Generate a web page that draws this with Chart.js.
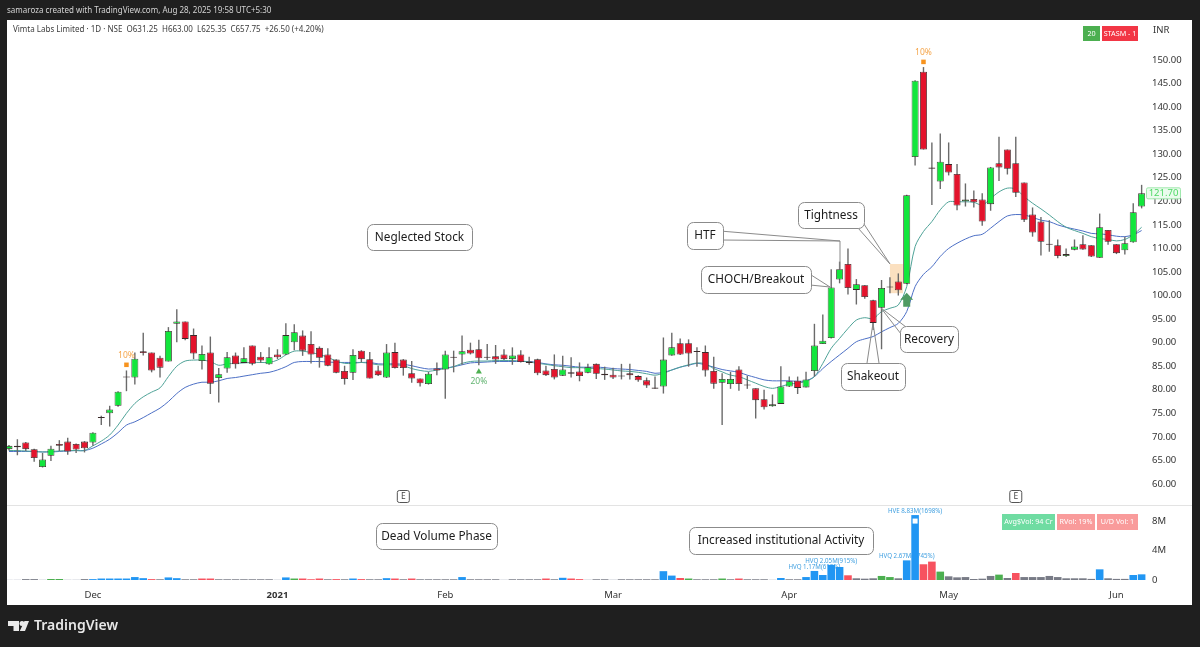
<!DOCTYPE html>
<html>
<head>
<meta charset="utf-8">
<style>
  html, body { margin: 0; padding: 0; background: #1f1f1f; }
  canvas { display: block; }
</style>
<script src="https://cdn.jsdelivr.net/npm/chart.js@4"></script>
</head>
<body>
<canvas id="myChart" width="1200" height="647"></canvas>
<script>
const open = [
  67.4,68.1,68.8,67.4,63.6,66.0,68.5,69.0,68.5,69.0,
  68.8,74.1,75.0,76.6,82.8,82.6,88.2,87.9,86.8,86.0,
  94.0,94.5,91.6,86.1,87.9,82.5,84.5,87.3,85.7,89.4,
  87.0,85.4,87.5,87.5,90.1,91.5,89.7,88.9,87.5,86.4,
  84.0,83.6,88.3,86.5,84.1,82.6,88.0,86.4,83.5,82.4,
  81.2,84.5,84.3,87.0,87.5,88.5,88.6,87.0,87.1,87.5,
  86.5,87.5,86.0,86.5,84.1,84.4,83.0,83.4,83.9,83.6,
  85.5,83.4,83.2,83.0,83.5,82.9,82.0,80.2,80.7,87.3,
  89.9,89.9,88.2,88.0,84.0,81.5,81.2,84.3,81.0,80.3,
  78.0,76.5,77.0,80.7,81.9,80.5,84.0,89.7,91.0,103.4,
  106.7,101.2,102.2,99.0,97.4,101.9,103.0,102.5,129.4,147.5,
  127.2,124.2,127.9,125.8,120.0,120.5,120.4,119.4,128.1,131.0,
  128.1,124.0,117.2,115.7,111.0,110.7,108.4,109.7,110.9,110.7,
  108.0,113.9,110.9,109.6,111.3,118.9
]
const high = [
  68.3,69.5,68.9,67.5,66.6,68.1,69.3,69.8,68.6,69.1,
  71.0,74.5,76.6,79.7,84.1,87.9,92.1,87.9,87.2,93.3,
  97.1,94.5,93.0,89.4,91.3,84.6,88.0,87.9,89.0,89.4,
  88.0,89.0,88.6,94.1,93.9,92.6,92.4,89.2,88.8,86.5,
  85.1,88.6,88.4,88.0,85.1,89.7,90.0,86.5,86.1,82.4,
  83.8,85.8,88.3,88.3,91.5,90.0,90.6,89.7,89.5,88.6,
  89.0,88.4,87.0,86.6,85.1,87.5,87.2,86.9,85.8,85.5,
  85.6,84.9,84.7,85.5,85.5,83.1,82.6,82.8,91.1,92.1,
  90.9,90.7,89.0,89.4,87.0,83.5,83.8,85.0,83.0,80.3,
  80.0,79.0,85.0,82.8,82.8,83.8,94.0,96.0,105.6,107.2,
  110.0,103.5,102.2,99.1,103.3,103.9,104.7,121.4,145.7,148.5,
  132.5,134.4,132.5,127.9,123.8,122.3,121.7,127.3,133.7,131.0,
  133.7,124.0,118.7,116.7,116.0,111.9,110.0,111.9,112.8,110.7,
  117.4,113.9,110.9,112.5,119.6,123.5
]
const low = [
  67.1,66.1,67.0,64.7,63.5,64.9,67.0,66.2,66.6,66.7,
  68.1,72.5,72.2,76.4,79.7,81.1,87.3,83.7,82.6,86.0,
  90.1,90.5,86.5,84.3,79.1,77.3,83.6,84.5,85.7,85.2,
  85.7,85.3,86.5,87.4,88.4,87.2,85.6,84.7,85.0,83.5,
  81.1,82.1,85.8,82.4,82.9,82.5,84.5,83.0,81.5,80.7,
  81.1,83.1,78.1,83.7,85.3,87.5,85.2,86.3,85.5,86.3,
  85.3,85.8,85.3,83.1,82.9,82.2,82.9,82.6,81.8,83.5,
  82.3,82.1,82.3,82.2,82.2,81.7,80.4,80.2,79.2,87.2,
  87.4,84.9,84.9,82.8,80.2,72.5,80.2,79.8,80.2,73.9,
  75.8,76.4,77.0,80.6,79.1,80.5,82.8,89.7,90.9,102.6,
  100.2,98.1,99.3,92.7,88.6,100.5,100.0,102.4,127.6,131.0,
  119.2,122.6,125.5,118.1,118.9,118.7,114.8,118.0,124.3,125.7,
  120.9,115.6,112.5,108.5,109.3,107.9,108.2,109.6,109.7,108.2,
  108.0,110.8,108.8,108.7,111.2,118.5
]
const close = [
  68.1,67.8,67.4,65.5,65.2,67.5,68.1,66.9,67.3,67.6,
  70.9,74.0,75.8,79.6,82.6,86.6,87.8,84.1,84.7,92.5,
  94.5,90.8,87.7,87.6,81.3,83.3,86.9,85.4,86.7,85.5,
  86.2,86.9,86.9,91.6,92.2,88.3,87.5,86.8,85.1,83.6,
  82.3,87.4,86.5,82.4,83.1,87.9,84.6,84.6,82.4,81.4,
  83.4,84.1,87.5,86.8,88.2,87.7,86.7,86.8,86.4,86.5,
  87.3,85.9,85.7,83.5,83.1,82.6,84.3,83.7,82.9,84.8,
  83.4,83.1,82.6,82.8,83.1,82.0,80.9,80.5,86.4,89.0,
  87.5,87.7,88.0,84.1,81.3,82.3,82.3,81.2,80.9,77.8,
  76.3,76.9,80.7,81.8,80.4,82.2,89.4,90.4,101.7,105.6,
  101.6,102.4,99.7,94.2,101.6,101.7,101.1,121.3,145.6,131.0,
  126.9,128.4,126.1,119.1,120.4,119.8,115.7,127.2,127.2,126.9,
  121.8,116.1,113.4,111.4,110.8,108.4,108.8,110.4,109.8,108.3,
  114.5,111.4,109.0,111.1,117.7,121.7
]
const emaFast = [
  67.1,67.1,67.0,66.9,66.8,66.9,67.0,67.1,67.1,67.1,
  68.1,69.1,70.4,72.5,75.0,77.1,78.5,79.5,80.4,82.8,
  85.0,86.1,86.3,86.3,86.0,85.2,85.5,85.6,85.7,85.8,
  85.8,85.8,86.3,87.4,88.2,88.2,87.9,87.5,86.9,86.1,
  85.6,85.6,85.8,85.6,85.3,85.3,85.3,85.1,84.5,84.1,
  83.9,84.2,84.5,84.9,85.6,86.0,86.1,86.1,86.2,86.2,
  86.2,86.1,85.9,85.6,85.4,85.1,84.9,84.7,84.7,84.6,
  84.5,84.4,84.2,84.0,83.9,83.7,83.4,83.1,83.5,84.2,
  84.8,85.3,85.7,85.5,84.5,83.8,83.1,82.8,82.1,81.4,
  80.7,80.3,80.7,81.2,81.4,81.8,82.8,85.6,88.8,90.9,
  93.0,94.8,95.3,95.1,96.6,97.3,98.0,101.9,110.4,113.6,
  115.7,118.2,119.9,119.9,119.9,119.8,119.2,120.6,122.0,122.8,
  122.6,121.0,119.6,118.4,117.1,115.7,114.5,113.8,113.2,112.5,
  112.1,111.9,111.6,111.9,112.9,114.5
]
const emaSlow = [
  66.9,66.9,66.9,66.9,66.8,66.8,66.9,67.0,67.1,67.1,
  67.6,68.5,69.5,70.9,72.5,73.2,74.1,75.1,76.1,77.5,
  79.2,80.5,81.2,81.6,81.6,81.9,82.4,82.6,82.9,83.2,
  83.5,83.7,84.2,84.9,85.8,86.0,86.0,86.0,85.9,85.8,
  85.8,85.8,85.8,85.8,85.5,85.5,85.5,85.4,85.1,84.7,
  84.4,84.5,84.6,84.9,85.3,85.7,85.8,85.9,86.0,86.0,
  86.0,86.0,86.0,85.8,85.5,85.3,85.2,85.0,84.8,84.8,
  84.8,84.7,84.5,84.4,84.3,84.1,83.9,83.5,83.7,84.2,
  84.8,85.2,85.6,85.3,84.8,84.3,84.0,83.7,83.1,82.6,
  82.1,81.9,81.9,81.9,81.8,81.9,82.8,84.5,86.0,87.4,
  88.8,90.2,90.8,91.3,92.3,93.2,94.1,96.6,101.9,104.5,
  106.1,108.3,110.0,111.1,112.0,112.7,113.0,114.3,115.7,116.9,
  117.2,117.1,116.6,116.0,115.7,115.0,114.5,114.1,113.7,113.2,
  113.1,112.9,112.6,112.5,112.9,113.8
]
const volume = [
  .05,.06,.12,.12,.07,.14,.14,.07,.07,.12,
  .12,.2,.2,.2,.2,.4,.25,.12,.1,.35,
  .25,.1,.1,.2,.2,.1,.1,.1,.1,.1,
  .1,.1,.07,.35,.2,.2,.1,.2,.1,.12,
  .1,.2,.12,.1,.1,.25,.2,.1,.2,.1,
  .1,.1,.1,.1,.4,.1,.1,.1,.1,.07,
  .1,.1,.1,.1,.2,.1,.3,.2,.12,.08,
  .1,.1,.08,.1,.1,.1,.1,.1,1.2,.6,
  .27,.2,.1,.1,.1,.2,.1,.2,.1,.1,
  .1,.07,.27,.1,.1,.4,1.23,.68,2.05,1.77,
  .64,.23,.18,.23,.55,.4,.23,2.67,8.83,2.14,
  2.5,1.14,.5,.36,.4,.14,.18,.55,.73,.27,
  .95,.4,.4,.4,.55,.4,.23,.23,.23,.15,
  1.45,.23,.15,.15,.68,.77
]
// b high volume, g up, r down, n normal, l faint
const volumeKinds = (
  'llnnlgglln' + 'bbbbbbbrnb' + 'bnnrrnnnnn' + 'nnlbgrrrnr' + 'nbrnnbrnrn' +
  'nnnnbnnnnl' + 'nnnnrnbrrl' + 'nnlnnnnnbb' + 'rgnnngnrnn' + 'nlbnnbbbbb' +
  'rnnnggnbbr' + 'rgnnnnnngn' + 'rnnnnnnnnn' + 'bnnnbb'
).split('')

const priceTicks = [150,145,140,135,130,125,120,115,110,105,100,95,90,85,80,75,70,65,60]
const volumeTicks = [0, 4, 8]
const timeTickIndex = [10, 32, 52, 72, 93, 112, 132]
const timeTickNames = ['Dec', '2021', 'Feb', 'Mar', 'Apr', 'May', 'Jun']
const earningsIndex = [47, 120]
const orangeMarks = [{ x: 14, y: 85.3 }, { x: 109, y: 149.6 }]
const greenMarks = [{ x: 56, y: 83.8 }]
const volumeNotes = [
  { i: 96, text: 'HVQ 1.17M(615%)' },
  { i: 98, text: 'HVQ 2.05M(915%)' },
  { i: 107, text: 'HVQ 2.67M(3745%)' },
  { i: 108, text: 'HVE 8.83M(1698%)' }
]

const FONT = '"Noto Sans", sans-serif'
const kindColor = { b: '#2196f3', g: '#4caf50', r: '#f7525f', n: '#787b86', l: '#d1d4dc' }

function label(ctx, text, x, y, font, color, align) {
  ctx.font = font
  ctx.fillStyle = color
  ctx.textAlign = align || 'left'
  ctx.textBaseline = 'middle'
  ctx.fillText(text, x, y)
}

function badge(ctx, text, x, y, w, h, fill, color) {
  ctx.fillStyle = fill
  ctx.fillRect(x, y, w, h)
  label(ctx, text, x + w / 2, y + h / 2, '7.2px ' + FONT, color, 'center')
}

// white speech box with its pointer lines underneath
function callout(ctx, text, x, y, w, h, pointers) {
  ctx.strokeStyle = '#8b8b8b'
  ctx.lineWidth = 1
  pointers.forEach(p => {
    ctx.beginPath()
    ctx.moveTo(p[0], p[1])
    ctx.lineTo(p[2], p[3])
    ctx.stroke()
  })
  ctx.beginPath()
  ctx.roundRect(x + 0.5, y + 0.5, w, h, 6)
  ctx.fillStyle = '#ffffff'
  ctx.fill()
  ctx.stroke()
  label(ctx, text, x + w / 2, y + h / 2 + 0.5, '11.8px ' + FONT, '#1c1c1c', 'center')
}

const framePlugin = {
  id: 'frame',
  beforeDraw: chart => {
    const ctx = chart.ctx
    ctx.save()
    ctx.fillStyle = '#1f1f1f'
    ctx.fillRect(0, 0, 1200, 647)
    ctx.fillStyle = '#ffffff'
    ctx.fillRect(7, 20, 1185, 585)
    ctx.fillStyle = '#e3e3e3'
    ctx.fillRect(7, 505, 1185, 1)
    ctx.restore()
  },
  beforeDatasetsDraw: chart => {
    const ctx = chart.ctx
    const x = chart.scales.x
    const y = chart.scales.y
    const v = chart.scales.yVol
    ctx.save()
    // tightness zone
    ctx.fillStyle = '#fbe0c0'
    ctx.fillRect(x.getPixelForValue(105), y.getPixelForValue(106.7),
      x.getPixelForValue(106.55) - x.getPixelForValue(105),
      y.getPixelForValue(100.5) - y.getPixelForValue(106.7))
    // volume notes sit under the bars, the bars cut them
    volumeNotes.forEach(n => {
      label(ctx, n.text, x.getPixelForValue(n.i), v.getPixelForValue(volume[n.i]) - 4,
        '6.2px ' + FONT, '#3f9fe0', 'center')
    })
    ctx.restore()
  },
  afterDatasetsDraw: chart => {
    const ctx = chart.ctx
    const x = chart.scales.x
    const y = chart.scales.y
    const v = chart.scales.yVol
    ctx.save()

    label(ctx, 'samaroza created with TradingView.com, Aug 28, 2025 19:58 UTC+5:30', 7, 10.5, '8px ' + FONT, '#d4d4d4')
    label(ctx, 'Vimta Labs Limited · 1D · NSE  O631.25  H663.00  L625.35  C657.75  +26.50 (+4.20%)', 13, 29.5, '8px ' + FONT, '#3c3c3c')

    badge(ctx, '20', 1083, 26, 17, 15, '#4caf50', '#ffffff')
    badge(ctx, 'STASM - 1', 1102, 26, 36, 15, '#f23645', '#ffffff')
    label(ctx, 'INR', 1153, 30, '9.5px ' + FONT, '#333333')

    // percent marks
    orangeMarks.forEach(m => {
      label(ctx, '10%', x.getPixelForValue(m.x), y.getPixelForValue(m.y) - 9, '8.5px ' + FONT, '#f5a54a', 'center')
    })
    greenMarks.forEach(m => {
      label(ctx, '20%', x.getPixelForValue(m.x), y.getPixelForValue(m.y) + 9.5, '8.5px ' + FONT, '#64b573', 'center')
    })

    // green up arrow under the breakout
    const ax = x.getPixelForValue(107)
    const at = y.getPixelForValue(100.6)
    ctx.fillStyle = '#4f9b63'
    ctx.beginPath()
    ctx.moveTo(ax, at)
    ctx.lineTo(ax + 6.5, at + 7)
    ctx.lineTo(ax + 3.5, at + 7)
    ctx.lineTo(ax + 3.5, at + 14)
    ctx.lineTo(ax - 3.5, at + 14)
    ctx.lineTo(ax - 3.5, at + 7)
    ctx.lineTo(ax - 6.5, at + 7)
    ctx.closePath()
    ctx.fill()

    // earnings flags
    earningsIndex.forEach(i => {
      const ex = x.getPixelForValue(i)
      ctx.strokeStyle = '#555555'
      ctx.lineWidth = 1
      ctx.beginPath()
      ctx.roundRect(ex - 6, 490.5, 12, 12, 2)
      ctx.fillStyle = '#ffffff'
      ctx.fill()
      ctx.stroke()
      label(ctx, 'E', ex, 496.5, '8.5px ' + FONT, '#444444', 'center')
    })

    callout(ctx, 'Neglected Stock', 367, 224, 105, 26, [])
    callout(ctx, 'HTF', 687, 222, 36, 27, [[720, 231, 840, 241], [720, 240, 840, 241], [840, 241, 840, 270]])
    callout(ctx, 'Tightness', 798, 202, 66, 26, [[862, 221, 890, 264], [858, 228, 890, 264]])
    callout(ctx, 'CHOCH/Breakout', 701, 266, 110, 27, [[808, 273, 830, 287], [810, 285, 830, 287]])
    callout(ctx, 'Recovery', 900, 326, 58, 26, [[881, 308, 906, 327], [881, 308, 901, 334]])
    callout(ctx, 'Shakeout', 841, 363, 64, 27, [[873, 323, 867, 363], [873, 323, 879, 363]])
    callout(ctx, 'Dead Volume Phase', 376, 523, 121, 26, [])
    callout(ctx, 'Increased institutional Activity', 689, 527, 184, 27, [])

    // white square on the biggest volume bar
    ctx.fillStyle = '#ffffff'
    ctx.fillRect(x.getPixelForValue(108) - 2.5, v.getPixelForValue(8.83) + 3.5, 5, 5)

    badge(ctx, 'Avg$Vol: 94 Cr', 1002, 514, 53, 16, '#6fdca2', '#ffffff')
    badge(ctx, 'RVol: 19%', 1057, 514, 38, 16, '#f99b9b', '#ffffff')
    badge(ctx, 'U/D Vol: 1', 1097, 514, 41, 16, '#f99b9b', '#ffffff')

    // last price tag
    const py = y.getPixelForValue(close[close.length - 1])
    ctx.fillStyle = '#eafbec'
    ctx.strokeStyle = '#9fe8ad'
    ctx.lineWidth = 1
    ctx.beginPath()
    ctx.roundRect(1146.5, py - 5.5, 34, 11, 1.5)
    ctx.fill()
    ctx.stroke()
    label(ctx, close[close.length - 1].toFixed(2), 1163.5, py, '9.5px ' + FONT, '#4cd964', 'center')

    // footer logo and name
    ctx.fillStyle = '#e8e8e8'
    ctx.beginPath()
    ctx.moveTo(8, 621)
    ctx.lineTo(19, 621)
    ctx.lineTo(19, 631)
    ctx.lineTo(13.5, 631)
    ctx.lineTo(13.5, 626)
    ctx.lineTo(8, 626)
    ctx.closePath()
    ctx.fill()
    ctx.beginPath()
    ctx.arc(22, 623.5, 2.5, 0, Math.PI * 2)
    ctx.fill()
    ctx.beginPath()
    ctx.moveTo(24.5, 621)
    ctx.lineTo(29, 621)
    ctx.lineTo(25, 631)
    ctx.lineTo(19.8, 631)
    ctx.closePath()
    ctx.fill()
    label(ctx, 'TradingView', 34, 626, '600 14px ' + FONT, '#e8e8e8')
    ctx.restore()
  }
}

const points = list => list.map((v, i) => ({ x: i, y: v }))

new Chart('myChart', {
  type: 'bar',
  plugins: [framePlugin],
  data: {
    datasets: [
      {
        type: 'line',
        data: orangeMarks,
        showLine: false,
        pointStyle: 'rect',
        pointRadius: 3.2,
        pointBackgroundColor: '#f7931e',
        pointBorderWidth: 0,
        yAxisID: 'y',
        order: 0
      },
      {
        type: 'line',
        data: greenMarks,
        showLine: false,
        pointStyle: 'triangle',
        pointRadius: 3.5,
        pointBackgroundColor: '#4caf50',
        pointBorderWidth: 0,
        yAxisID: 'y',
        order: 0
      },
      {
        data: open.map((o, i) => ({ x: i, y: [o, close[i]] })),
        backgroundColor: open.map((o, i) => (close[i] >= o ? '#12e63c' : '#e3132c')),
        borderColor: '#3a2a2a',
        borderWidth: 0.8,
        borderSkipped: false,
        inflateAmount: 0,
        barThickness: 7,
        minBarLength: 1,
        grouped: false,
        yAxisID: 'y',
        order: 1
      },
      {
        data: open.map((o, i) => ({ x: i, y: [low[i], high[i]] })),
        backgroundColor: '#6a6a6a',
        inflateAmount: 0,
        barThickness: 1.4,
        grouped: false,
        yAxisID: 'y',
        order: 2
      },
      {
        type: 'line',
        data: points(emaFast),
        borderColor: '#4fa398',
        borderWidth: 1,
        pointRadius: 0,
        tension: 0.3,
        yAxisID: 'y',
        order: 3
      },
      {
        type: 'line',
        data: points(emaSlow),
        borderColor: '#4d70c6',
        borderWidth: 1,
        pointRadius: 0,
        tension: 0.3,
        yAxisID: 'y',
        order: 4
      },
      {
        data: points(volume),
        backgroundColor: volumeKinds.map(k => kindColor[k]),
        inflateAmount: 0,
        barThickness: 7.6,
        grouped: false,
        yAxisID: 'yVol',
        order: 5
      }
    ]
  },
  options: {
    responsive: false,
    animation: false,
    layout: { padding: { left: 7, right: 7, top: 21, bottom: 40 } },
    plugins: { legend: { display: false }, tooltip: { enabled: false } },
    scales: {
      x: {
        type: 'linear',
        offset: false,
        min: -0.238,
        max: 135.76,
        grid: { display: false, offset: false, drawTicks: false, tickLength: 0 },
        border: { display: false },
        afterBuildTicks: scale => {
          scale.ticks = timeTickIndex.map(v => ({ value: v }))
        },
        afterFit: scale => {
          scale.height = 21
        },
        ticks: {
          autoSkip: false,
          maxRotation: 0,
          padding: 4,
          color: '#333333',
          font: c => ({ family: FONT, size: 9.5, weight: c.tick && c.tick.value === 32 ? 'bold' : 'normal' }),
          callback: v => timeTickNames[timeTickIndex.indexOf(v)] || ''
        }
      },
      y: {
        position: 'right',
        stack: 'panes',
        stackWeight: 484,
        min: 55.54,
        max: 158.28,
        grid: { display: false, drawTicks: false },
        border: { display: false },
        afterBuildTicks: scale => {
          scale.ticks = priceTicks.map(v => ({ value: v }))
        },
        afterFit: scale => {
          scale.width = 45
        },
        ticks: {
          autoSkip: false,
          padding: 4,
          color: '#333333',
          font: { family: FONT, size: 9.5 },
          callback: v => v.toFixed(2)
        }
      },
      yVol: {
        position: 'right',
        stack: 'panes',
        stackWeight: 81,
        min: -0.816,
        max: 10.2,
        grid: { display: false, drawTicks: false },
        border: { display: false },
        afterBuildTicks: scale => {
          scale.ticks = volumeTicks.map(v => ({ value: v }))
        },
        afterFit: scale => {
          scale.width = 45
        },
        ticks: {
          autoSkip: false,
          padding: 4,
          color: '#333333',
          font: { family: FONT, size: 9.5 },
          callback: v => (v === 0 ? '0' : v + 'M')
        }
      }
    }
  }
})
</script>
</body>
</html>
